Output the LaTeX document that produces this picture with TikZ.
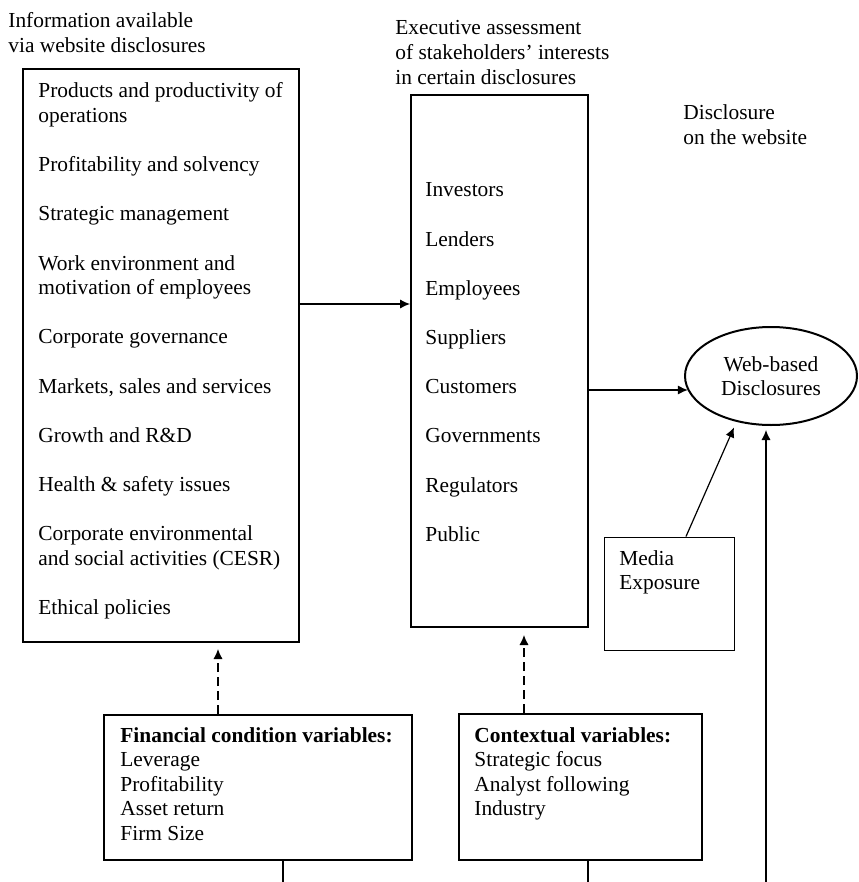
\documentclass[tikz,border=0pt]{standalone}
\usepackage{fontspec}
\setmainfont{Liberation Serif}
\usetikzlibrary{arrows.meta, fit, shapes.geometric}

\newcommand{\textlines}[1]{\begin{tabular}[t]{@{}l@{}}#1\end{tabular}}

\begin{document}
\begin{tikzpicture}[
  x=0.5pt, y=-0.5pt,
  font=\fontsize{10.7}{12.3}\selectfont,
  bigbox/.style={draw, line width=1pt, inner sep=0pt},
  smallbox/.style={draw, line width=0.5pt, inner sep=0pt},
  listtext/.style={anchor=base west, inner sep=0pt},
  link/.style={-{Latex[length=5pt,width=4.6pt]}, line width=0.6pt},
  dlink/.style={link, dash pattern=on 4.5pt off 2.5pt}
]
\useasboundingbox (0,0) rectangle (858,882);

% headings
\node (infohead) [listtext] at (8,28) {\textlines{Information available\\via website disclosures}};
\node (stakehead) [listtext] at (395,35) {\textlines{Executive assessment\\of stakeholders' interests\\in certain disclosures}};
\node (webhead) [listtext] at (683,120) {\textlines{Disclosure\\on the website}};

% information box
\node (info) [bigbox, fit={(23,69) (299,642)}] {};
\node (infolist) [listtext] at (38,98) {\textlines{
  Products and productivity of\\operations\\[12.3pt]
  Profitability and solvency\\[12.3pt]
  Strategic management\\[12.3pt]
  Work environment and\\motivation of employees\\[12.3pt]
  Corporate governance\\[12.3pt]
  Markets, sales and services\\[12.3pt]
  Growth and R\&D\\[12.3pt]
  Health \& safety issues\\[12.3pt]
  Corporate environmental\\and social activities (CESR)\\[12.3pt]
  Ethical policies}
};

% stakeholder box
\node (stake) [bigbox, fit={(411,95) (588,627)}] {};
\node (stakelist) [listtext] at (425,197) {\textlines{
  Investors\\[12.3pt]
  Lenders\\[12.3pt]
  Employees\\[12.3pt]
  Suppliers\\[12.3pt]
  Customers\\[12.3pt]
  Governments\\[12.3pt]
  Regulators\\[12.3pt]
  Public}
};

% disclosures
\node (web) [bigbox, ellipse, minimum width=86pt, minimum height=49pt, align=center] at (771,376) {Web-based\\Disclosures};

\node (media) [smallbox, fit={(604,537) (734,650)}] {};
\node (medialist) [listtext] at (619,565) {\textlines{Media\\Exposure}};

% variables
\node (fin) [bigbox, fit={(104,715) (412,860)}] {};
\node (finlist) [listtext] at (120,742) {\textlines{
  \textbf{Financial condition variables:}\\
  Leverage\\
  Profitability\\
  Asset return\\
  Firm Size}
};

\node (context) [bigbox, fit={(459,714) (702,860)}] {};
\node (contextlist) [listtext] at (474,742) {\textlines{
  \textbf{Contextual variables:}\\
  Strategic focus\\
  Analyst following\\
  Industry}
};

% connectors
\coordinate (infoout) at ([yshift=25.75pt]info.east);
\draw[link] (infoout) -- (infoout -| stake.west);

\coordinate (stakeout) at ([yshift=-14.5pt]stake.east);
\draw[link] (stakeout) -- (stakeout -| web.190);

\draw[link, shorten >=3pt] ([xshift=8.5pt]media.north) -- (web.233);

\coordinate (webin) at (766,882);
\draw[link, shorten >=2pt] (webin) -- (webin |- web.south);

\draw[dlink, shorten >=3pt] ([xshift=-20pt]fin.north) -- ([xshift=-20pt]fin.north |- info.south);
\draw[dlink, shorten >=3.5pt] ([xshift=-28.25pt]context.north) -- ([xshift=-28.25pt]context.north |- stake.south);

\coordinate (finout) at (283,882);
\draw[line width=0.6pt] (finout |- fin.south) -- (finout);
\coordinate (contextout) at (588,882);
\draw[line width=0.6pt] (contextout |- context.south) -- (contextout);

\end{tikzpicture}
\end{document}
